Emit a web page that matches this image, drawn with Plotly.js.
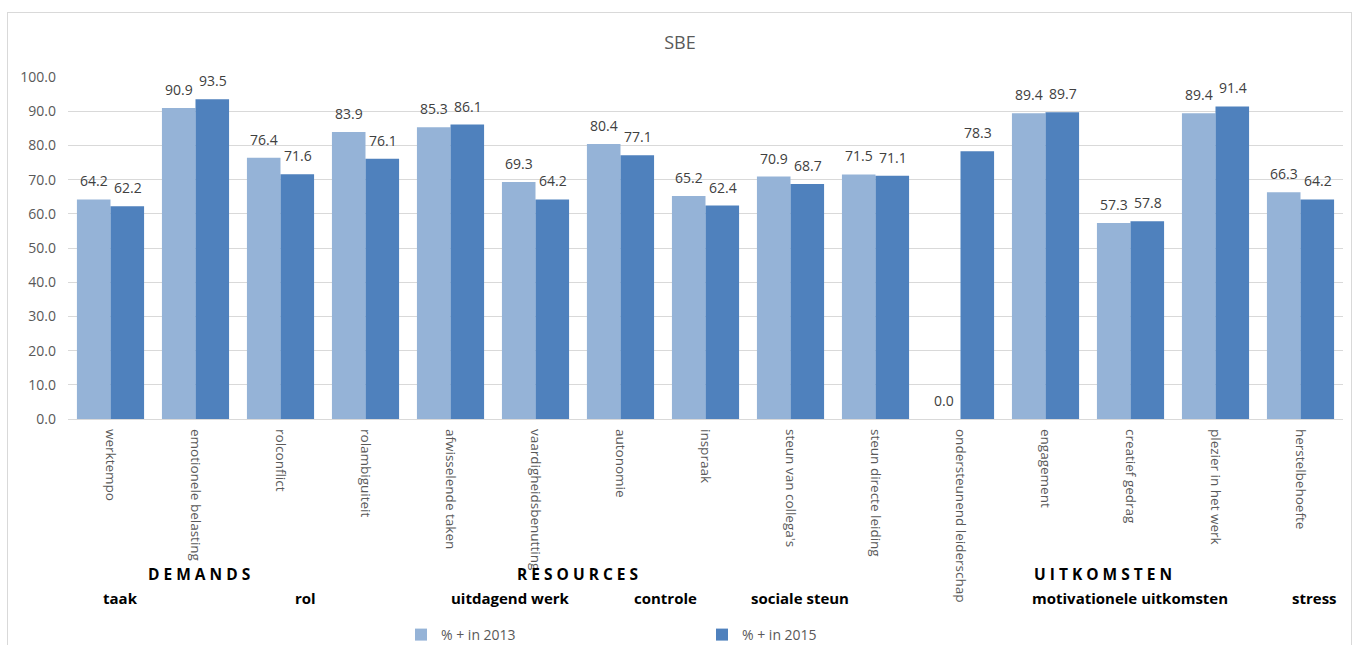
<!DOCTYPE html>
<html>
<head>
<meta charset="utf-8">
<script src="https://cdn.plot.ly/plotly-3.0.1.min.js"></script>
<style>
  html, body { margin: 0; padding: 0; background: #ffffff; }
  #frame { position: absolute; left: 7px; top: 12px; width: 1345px; height: 660px; border: 1px solid #d9d9d9; box-sizing: border-box; }
  #chart { position: absolute; left: 0; top: 0; width: 1360px; height: 645px; }
</style>
</head>
<body>
<div id="frame"></div>
<div id="chart"></div>
<script>
// Survey items (x-axis categories)
const categories = [
  "werktempo", "emotionele belasting", "rolconflict", "rolambiguiteit",
  "afwisselende taken", "vaardigheidsbenutting", "autonomie", "inspraak",
  "steun van collega's", "steun directe leiding", "ondersteunend leiderschap",
  "engagement", "creatief gedrag", "plezier in het werk", "herstelbehoefte"
];

// Percentage positive per item
const pct2013 = [64.2, 90.9, 76.4, 83.9, 85.3, 69.3, 80.4, 65.2, 70.9, 71.5, 0.0, 89.4, 57.3, 89.4, 66.3];
const pct2015 = [62.2, 93.5, 71.6, 76.1, 86.1, 64.2, 77.1, 62.4, 68.7, 71.1, 78.3, 89.7, 57.8, 91.4, 64.2];

const seriesNames = ["% + in 2013", "% + in 2015"];
const yTicks = [0, 10, 20, 30, 40, 50, 60, 70, 80, 90, 100];

// Group headings below the item labels
const groupHeadings = [
  { text: "D E M A N D S", px: 199 },
  { text: "R E S O U R C E S", px: 577 },
  { text: "U I T K O M S T E N", px: 1103 }
];
const subHeadings = [
  { text: "taak", px: 120 },
  { text: "rol", px: 305 },
  { text: "uitdagend werk", px: 510 },
  { text: "controle", px: 665 },
  { text: "sociale steun", px: 800 },
  { text: "motivationele uitkomsten", px: 1130 },
  { text: "stress", px: 1314 }
];

const FONT = "'Open Sans', 'Noto Sans', sans-serif";
const plotLeft = 68, plotRight = 1343, plotTop = 77, plotBottom = 419;
const plotW = plotRight - plotLeft, plotH = plotBottom - plotTop;
const px2x = p => (p - plotLeft) / plotW;
const py2y = p => (plotBottom - p) / plotH;

const colors = ["#95b3d7", "#4f81bd"];
const seriesValues = [pct2013, pct2015];

const traces = seriesValues.map((vals, s) => ({
  type: "bar", name: seriesNames[s], x: categories, y: vals,
  marker: { color: colors[s] }, hoverinfo: "x+y"
}));

const annotations = [];

// Value labels above each bar (offset half a bar left/right within the group)
const barHalfOffset = 17;
seriesValues.forEach((vals, s) => {
  vals.forEach((v, i) => annotations.push({
    text: v.toFixed(1), xref: "x", yref: "y", x: categories[i], y: v,
    xshift: s === 0 ? -barHalfOffset : barHalfOffset, yshift: 7,
    xanchor: "center", yanchor: "bottom", showarrow: false,
    font: { family: FONT, size: 14, color: "#404040" }
  }));
});

groupHeadings.forEach(h => annotations.push({
  text: h.text, xref: "paper", yref: "paper", x: px2x(h.px), y: py2y(574),
  xanchor: "center", yanchor: "middle", showarrow: false,
  font: { family: FONT, size: 15.5, color: "#000000", weight: "bold" }
}));
subHeadings.forEach(h => annotations.push({
  text: h.text, xref: "paper", yref: "paper", x: px2x(h.px), y: py2y(598),
  xanchor: "center", yanchor: "middle", showarrow: false,
  font: { family: FONT, size: 15, color: "#000000", weight: "bold" }
}));

const layout = {
  width: 1360, height: 645,
  paper_bgcolor: "rgba(0,0,0,0)", plot_bgcolor: "rgba(0,0,0,0)",
  margin: { l: plotLeft, r: 1360 - plotRight, t: plotTop, b: 645 - plotBottom, autoexpand: false },
  title: {
    text: "SBE", x: 0.5, xanchor: "center", y: 1 - 43 / 645, yanchor: "middle",
    font: { family: FONT, size: 18, color: "#595959" }
  },
  barmode: "group", bargap: 0.21, bargroupgap: 0,
  xaxis: {
    type: "category", tickangle: 90, showgrid: false, zeroline: false,
    showline: false, ticks: "", ticklen: 0, automargin: false,
    ticklabelstandoff: 9,
    tickfont: { family: FONT, size: 13.5, color: "#595959" }
  },
  yaxis: {
    range: [0, 100], tickvals: yTicks, tickformat: ".1f",
    showgrid: true, gridcolor: "#d9d9d9", gridwidth: 1,
    zeroline: true, zerolinecolor: "#d9d9d9", zerolinewidth: 1,
    showline: false, ticks: "", automargin: false, ticklabelstandoff: 11,
    tickfont: { family: FONT, size: 14, color: "#595959" }
  },
  showlegend: true,
  legend: {
    orientation: "h", x: px2x(401), xanchor: "left", y: py2y(635), yanchor: "middle",
    entrywidth: 256, entrywidthmode: "pixels", itemwidth: 30,
    font: { family: FONT, size: 14, color: "#595959" },
    bgcolor: "rgba(0,0,0,0)"
  },
  annotations: annotations
};

Plotly.newPlot("chart", traces, layout, { staticPlot: true, displayModeBar: false });
</script>
</body>
</html>
